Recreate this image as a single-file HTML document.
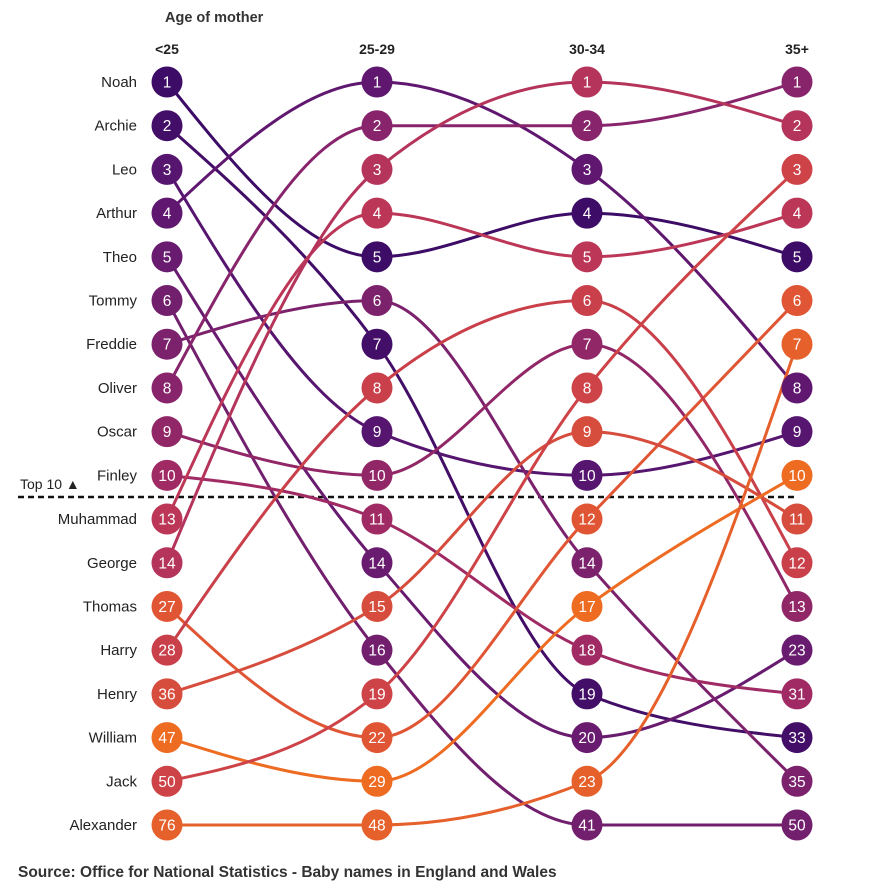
<!DOCTYPE html>
<html><head><meta charset="utf-8"><style>
html,body{margin:0;padding:0;background:#fff;}
svg{display:block;font-family:"Liberation Sans",Arial,sans-serif;}
</style></head><body>
<svg id="chart" width="885" height="893" viewBox="0 0 885 893">
<text x="165" y="22" font-size="14.5" font-weight="bold" fill="#333">Age of mother</text>
<g id="heads"></g>
<g id="labels"></g>
<line x1="18" x2="797" y1="497" y2="497" stroke="#111" stroke-width="2.5" stroke-dasharray="6,4"/>
<text x="20" y="489" font-size="14" fill="#222">Top 10 ▲</text>
<g id="lines"></g>
<g id="dots"></g>
<text x="18" y="877" font-size="15.5" font-weight="bold" fill="#333">Source: Office for National Statistics - Baby names in England and Wales</text>
</svg>
<script>
const columns = ["<25","25-29","30-34","35+"];
const names = ["Noah","Archie","Leo","Arthur","Theo","Tommy","Freddie","Oliver","Oscar","Finley","Muhammad","George","Thomas","Harry","Henry","William","Jack","Alexander"];
const rankU25 = [1,2,3,4,5,6,7,8,9,10,13,14,27,28,36,47,50,76];
const rank2529 = [5,7,9,1,14,16,6,2,10,11,4,3,22,8,15,29,19,48];
const rank3034 = [4,19,10,3,20,41,14,2,7,18,5,1,12,6,9,17,8,23];
const rank35p = [5,33,9,8,23,50,35,1,13,31,4,2,6,12,11,10,3,7];
const colors = ["#3c0c66","#420e68","#56156f","#5f176f","#681b6f","#721f6e","#7c226d","#87246b","#922768","#a02b64","#bc3757","#b5345b","#e05634","#c9404b","#d64d3d","#ee6b22","#cd4347","#e6602b"];

const ranks = [rankU25, rank2529, rank3034, rank35p];
const colX = i => 167 + i*210;
const slotY = s => 82 + s*(825-82)/17;
const NS = "http://www.w3.org/2000/svg";
function mk(tag, attrs, parent){const e=document.createElementNS(NS,tag);for(const k in attrs)e.setAttribute(k,attrs[k]);parent.appendChild(e);return e;}

const slots = ranks.map(r => {
  const order = r.map((v,i)=>i).sort((a,b)=>r[a]-r[b]);
  const s = new Array(r.length); order.forEach((ni,k)=>s[ni]=k); return s;
});

const heads = document.getElementById('heads');
columns.forEach((c,i)=>{
  const t = mk('text',{x:colX(i),y:54,'text-anchor':'middle','font-size':14,'font-weight':'bold',fill:'#222'},heads);
  
  
  t.textContent = c;
});
const labels = document.getElementById('labels');
names.forEach((n,i)=>{
  const t = mk('text',{x:137,y:slotY(slots[0][i])+5,'text-anchor':'end','font-size':15,fill:'#222'},labels);
  
  
  t.textContent = n;
});

function sign(x){return x<0?-1:1;}
function slope3(p0,p1,p2){const h0=p1[0]-p0[0],h1=p2[0]-p1[0],s0=(p1[1]-p0[1])/h0,s1=(p2[1]-p1[1])/h1,p=(s0*h1+s1*h0)/(h0+h1);return (sign(s0)+sign(s1))*Math.min(Math.abs(s0),Math.abs(s1),0.5*Math.abs(p))||0;}
function slope2(p0,p1,t){const h=p1[0]-p0[0];return (3*(p1[1]-p0[1])/h-t)/2;}
function monotone(pts){
  const n=pts.length, t=new Array(n);
  for(let i=1;i<n-1;i++) t[i]=slope3(pts[i-1],pts[i],pts[i+1]);
  t[0]=slope2(pts[0],pts[1],t[1]); t[n-1]=slope2(pts[n-2],pts[n-1],t[n-2]);
  let d='M'+pts[0][0]+','+pts[0][1];
  for(let i=0;i<n-1;i++){const dx=(pts[i+1][0]-pts[i][0])/3;
    d+='C'+(pts[i][0]+dx)+','+(pts[i][1]+dx*t[i])+','+(pts[i+1][0]-dx)+','+(pts[i+1][1]-dx*t[i+1])+','+pts[i+1][0]+','+pts[i+1][1];}
  return d;
}
const lines = document.getElementById('lines'), dots = document.getElementById('dots');
names.forEach((n,i)=>{
  const pts = ranks.map((r,c)=>[colX(c), slotY(slots[c][i])]);
  const p = mk('path',{d:monotone(pts),fill:'none',stroke:colors[i],'stroke-width':3},lines);
  
  
  ranks.forEach((r,c)=>{
    const g = mk('g',{},dots);
    
    
    mk('circle',{cx:pts[c][0],cy:pts[c][1],r:15.5,fill:colors[i]},g);
    const t = mk('text',{x:pts[c][0],y:pts[c][1]+5.5,'text-anchor':'middle','font-size':15.5,fill:'#fff'},g);
    t.textContent = r[i];
  });
});
</script>
</body></html>
